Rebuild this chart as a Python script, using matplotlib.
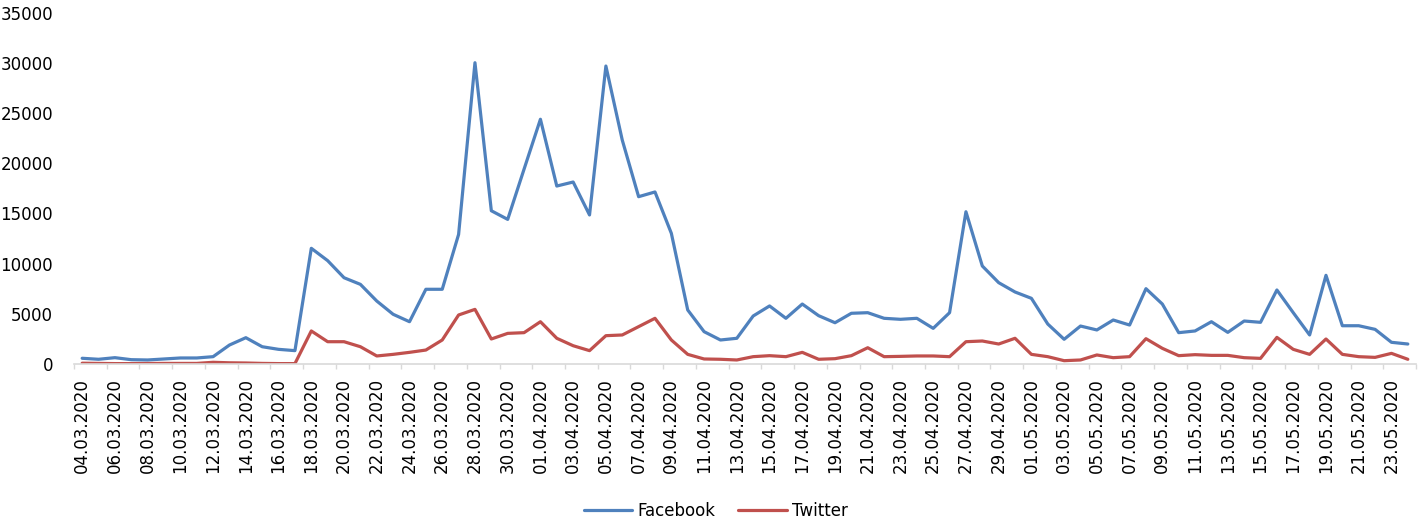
import pandas as pd
import matplotlib
matplotlib.use("Agg")
from matplotlib import pyplot as plt
from matplotlib.ticker import FixedLocator

# Daily categories, 04.03.2020 - 24.05.2020
dates = pd.date_range("2020-03-04", "2020-05-24", freq="D")
date_labels = [d.strftime("%d.%m.%Y") for d in dates]

facebook = [570, 470, 630, 430, 400, 500, 600, 600, 730, 1890,
            2620, 1720, 1460, 1330, 11520, 10290, 8590, 7930, 6270, 4950,
            4210, 7440, 7440, 12900, 30000, 15260, 14400, 19400, 24370, 17720,
            18120, 14840, 29670, 22300, 16660, 17130, 13010, 5380, 3220, 2390,
            2560, 4780, 5780, 4550, 5970, 4810, 4110, 5050, 5110, 4550,
            4450, 4550, 3550, 5110, 15160, 9760, 8100, 7170, 6540, 3980,
            2460, 3780, 3390, 4380, 3880, 7500, 5970, 3120, 3290, 4210,
            3150, 4280, 4150, 7370, 5110, 2890, 8830, 3810, 3810, 3450,
            2160, 1990]

twitter = [80, 60, 40, 40, 50, 60, 60, 60, 170, 120,
           100, 60, 40, 40, 3290, 2220, 2220, 1720, 800, 960,
           1160, 1390, 2390, 4880, 5440, 2490, 3050, 3120, 4210, 2560,
           1820, 1330, 2820, 2890, 3720, 4550, 2390, 960, 500, 470,
           400, 730, 830, 730, 1160, 470, 530, 830, 1620, 730,
           760, 800, 800, 730, 2220, 2290, 1990, 2560, 960, 730,
           330, 400, 900, 630, 730, 2520, 1560, 830, 930, 860,
           860, 630, 560, 2650, 1460, 960, 2490, 960, 730, 660,
           1060, 470]

series_names = ["Facebook", "Twitter"]
series_colors = ["#4F81BD", "#C0504D"]

FONT_SIZE = 12
AXIS_GREY = "#D9D9D9"

fig = plt.figure(figsize=(14.19, 5.24), dpi=100)
ax = fig.add_axes([74 / 1419, 1 - 364 / 524, (1416 - 74) / 1419, (364 - 12.5) / 524])

x = list(range(len(dates)))
for name, values, color in zip(series_names, (facebook, twitter), series_colors):
    ax.plot(x, values, color=color, lw=2.3, label=name, solid_joinstyle="round", solid_capstyle="round")

ax.set_xlim(-0.5, len(dates) - 0.5)
ax.set_ylim(0, 35000)

# Labels every second day, tick marks between category pairs
ax.xaxis.set_major_locator(FixedLocator(x[::2]))
ax.set_xticklabels(date_labels[::2], rotation=90, fontsize=FONT_SIZE, va="top", ha="center")
ax.xaxis.set_minor_locator(FixedLocator([i - 0.5 for i in range(0, len(dates) + 1, 2)]))
ax.tick_params(axis="x", which="major", length=0, pad=10)
ax.tick_params(axis="x", which="minor", length=3.6, width=1, color=AXIS_GREY)

ax.set_yticks(range(0, 35001, 5000))
ax.set_yticklabels([str(v) for v in range(0, 35001, 5000)], fontsize=FONT_SIZE)
ax.tick_params(axis="y", length=0, pad=15)

for side in ("left", "right", "top"):
    ax.spines[side].set_visible(False)
ax.spines["bottom"].set_color(AXIS_GREY)
ax.spines["bottom"].set_linewidth(1.2)

fig.legend(loc="center", bbox_to_anchor=(715.5 / 1419, 1 - 510.7 / 524), ncol=2, frameon=False,
           fontsize=FONT_SIZE, handlelength=2.9, handletextpad=0.3, columnspacing=1.4)

plt.savefig("out.png", dpi=100)
plt.close()
